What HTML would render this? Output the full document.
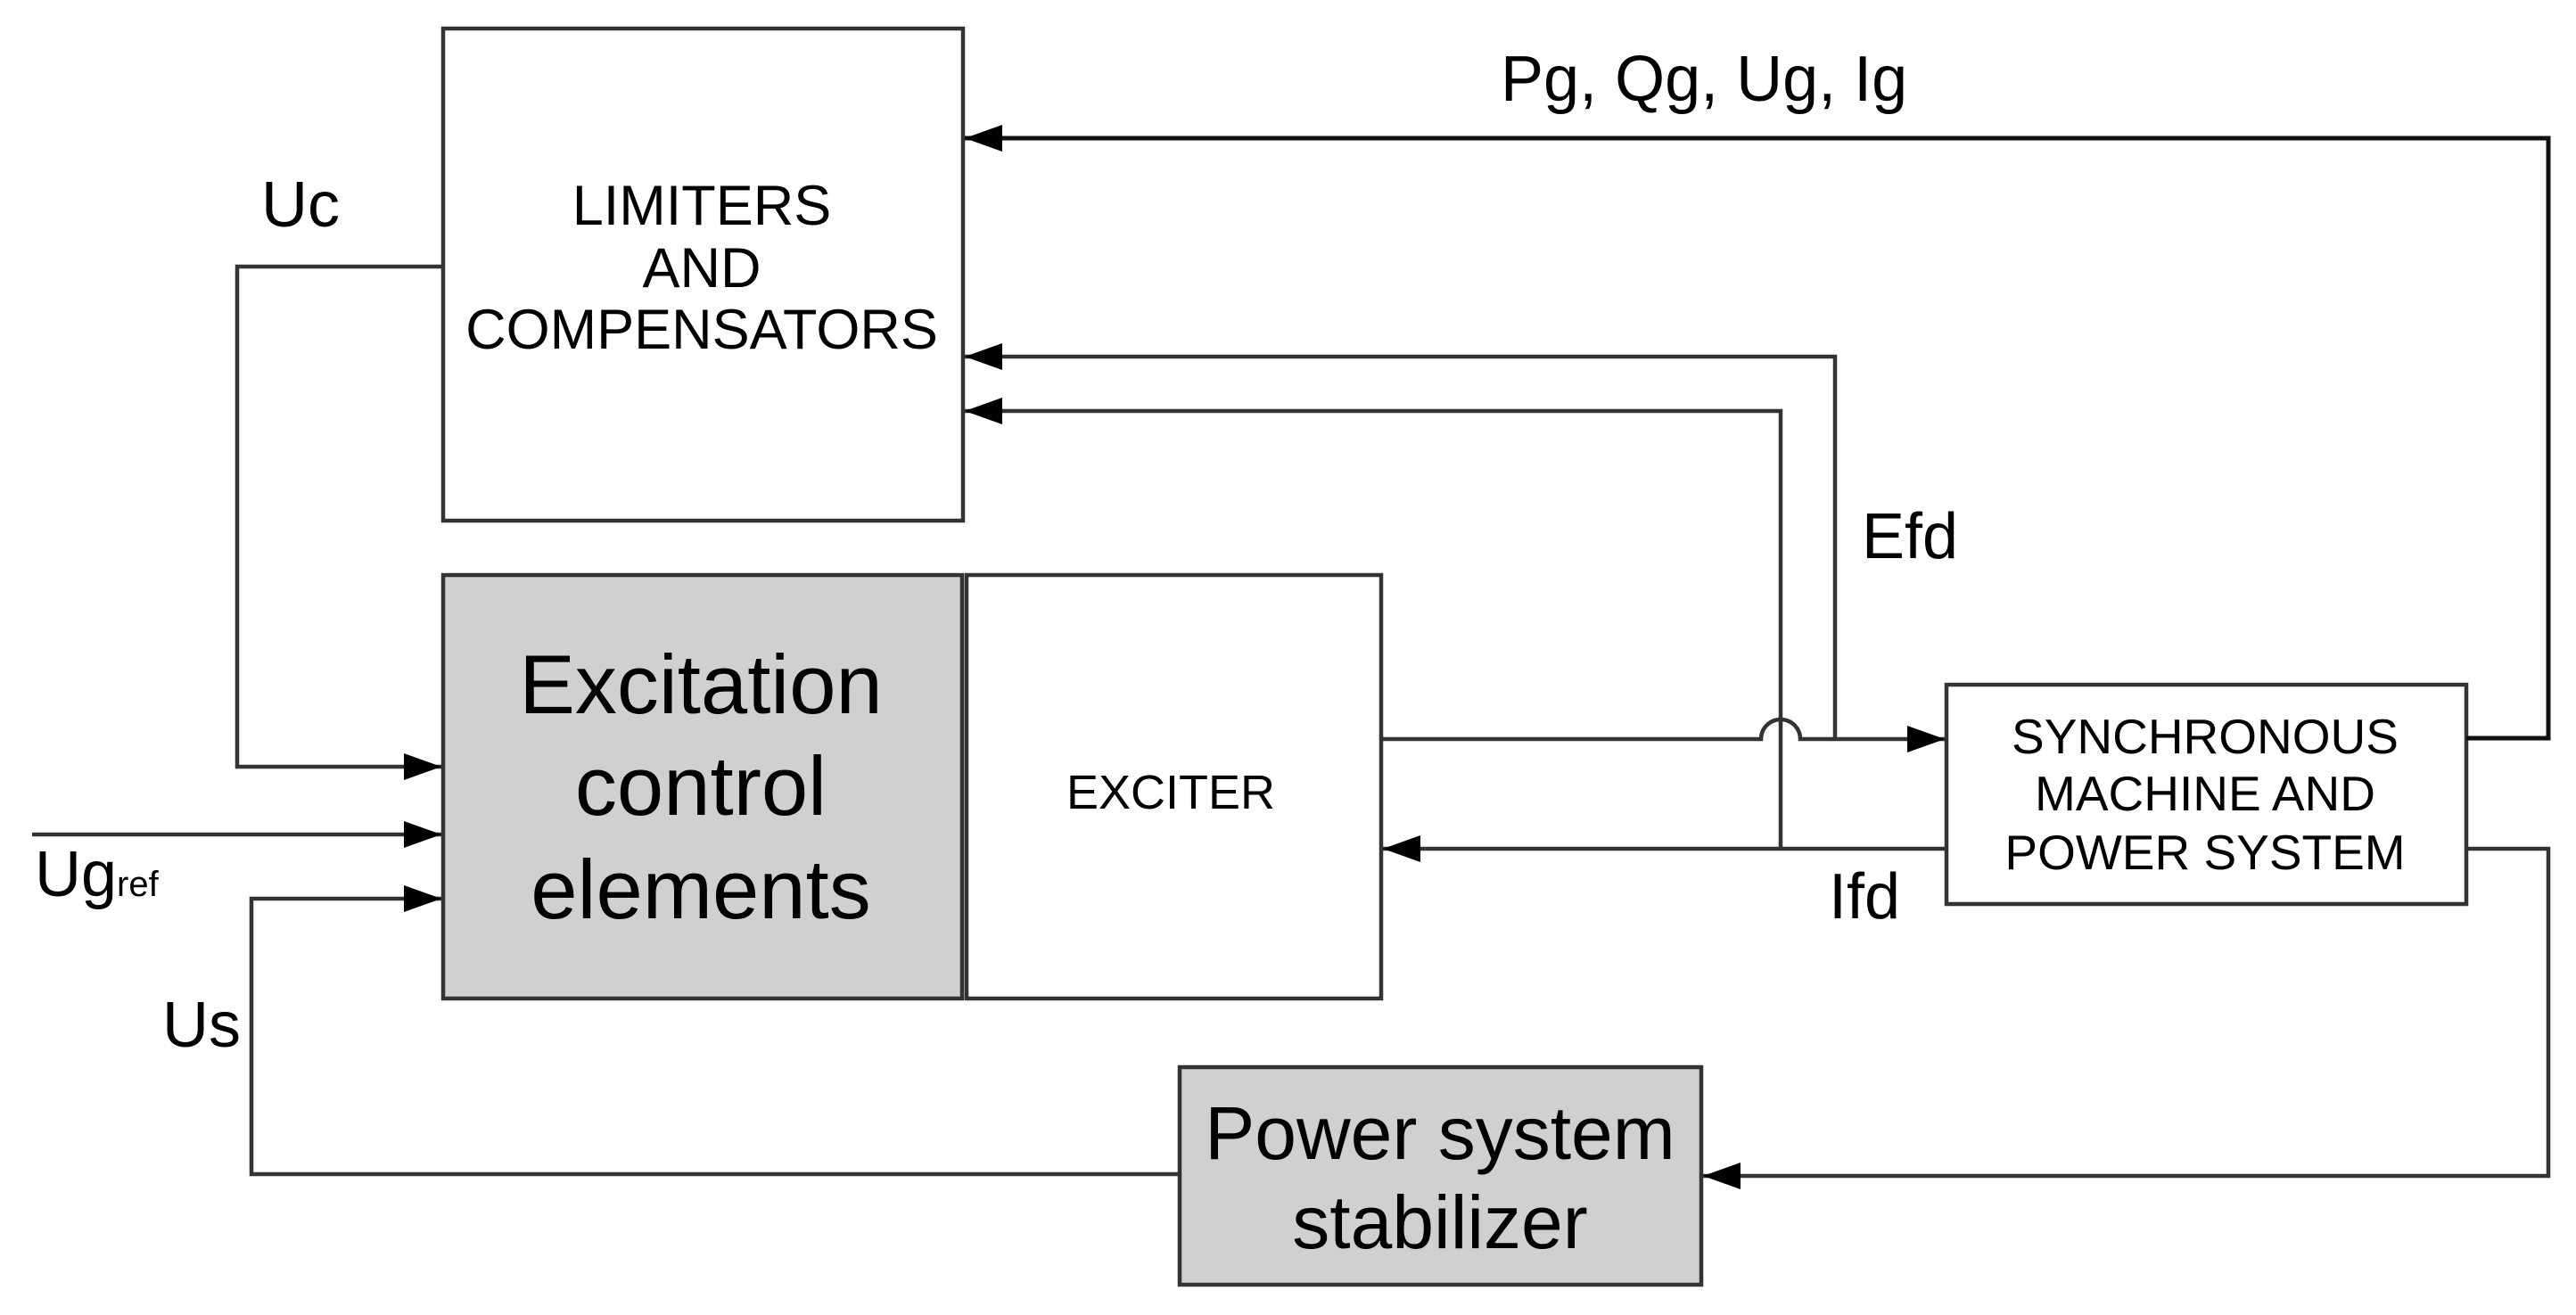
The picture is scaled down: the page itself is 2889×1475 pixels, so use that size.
<!DOCTYPE html>
<html><head><meta charset="utf-8"><style>
html,body{margin:0;padding:0;background:#fff;}
svg{display:block;}
text{font-family:"Liberation Sans",Arial,sans-serif;fill:#000;}
</style></head><body>
<svg width="2889" height="1475" viewBox="0 0 2889 1475" xmlns="http://www.w3.org/2000/svg">
<defs>
<marker id="ar" markerWidth="42" markerHeight="30" refX="42" refY="15" orient="auto" markerUnits="userSpaceOnUse">
<path d="M0,0 L42,15 L0,30 Z" fill="#000"/>
</marker>
</defs>
<g fill="none" stroke="#333" stroke-width="4.5">
<rect x="497" y="32" width="583" height="552" fill="#fff"/>
<rect x="497" y="645" width="582" height="475" fill="#d0d0d0"/>
<rect x="1084" y="645" width="465" height="475" fill="#fff"/>
<rect x="2183" y="768" width="583" height="246" fill="#fff"/>
<rect x="1323" y="1197" width="585" height="244" fill="#d0d0d0"/>

<polyline points="497,299 266,299 266,860 495,860" marker-end="url(#ar)"/>
<polyline points="36,936 495,936" marker-end="url(#ar)"/>
<polyline points="1323,1317 282,1317 282,1008 495,1008" marker-end="url(#ar)"/>

<polyline points="2766,828 2858,828 2858,155 1082,155" marker-end="url(#ar)" stroke="#111" stroke-width="5"/>
<polyline points="2058,829 2058,400 1082,400" marker-end="url(#ar)"/>
<polyline points="1997,952 1997,461 1082,461" marker-end="url(#ar)"/>
<path d="M1549,829 L1975,829 A22,22 0 0 1 2019,829 L2181,829" marker-end="url(#ar)"/>
<polyline points="2183,952 1551,952" marker-end="url(#ar)"/>
<polyline points="2766,952 2858,952 2858,1319 1910,1319" marker-end="url(#ar)"/>
</g>

<g font-size="63" text-anchor="middle">
<text x="787" y="252">LIMITERS</text>
<text x="787" y="322">AND</text>
<text x="787" y="391">COMPENSATORS</text>
</g>
<g font-size="94" text-anchor="middle">
<text x="786" y="800">Excitation</text>
<text x="786" y="914">control</text>
<text x="786" y="1030">elements</text>
</g>
<text x="1313" y="907" font-size="54" text-anchor="middle">EXCITER</text>
<g font-size="55" text-anchor="middle">
<text x="2473" y="845">SYNCHRONOUS</text>
<text x="2473" y="909">MACHINE AND</text>
<text x="2473" y="975">POWER SYSTEM</text>
</g>
<g font-size="84" text-anchor="middle">
<text x="1615" y="1300">Power system</text>
<text x="1615" y="1400">stabilizer</text>
</g>
<text x="1683" y="113" font-size="72">Pg, Qg, Ug, Ig</text>
<text x="293" y="254" font-size="72">Uc</text>
<text x="39" y="1005" font-size="72">Ug<tspan font-size="40">ref</tspan></text>
<text x="182" y="1174" font-size="72">Us</text>
<text x="2088" y="626" font-size="72">Efd</text>
<text x="2051" y="1030" font-size="72">Ifd</text>
</svg>
</body></html>
